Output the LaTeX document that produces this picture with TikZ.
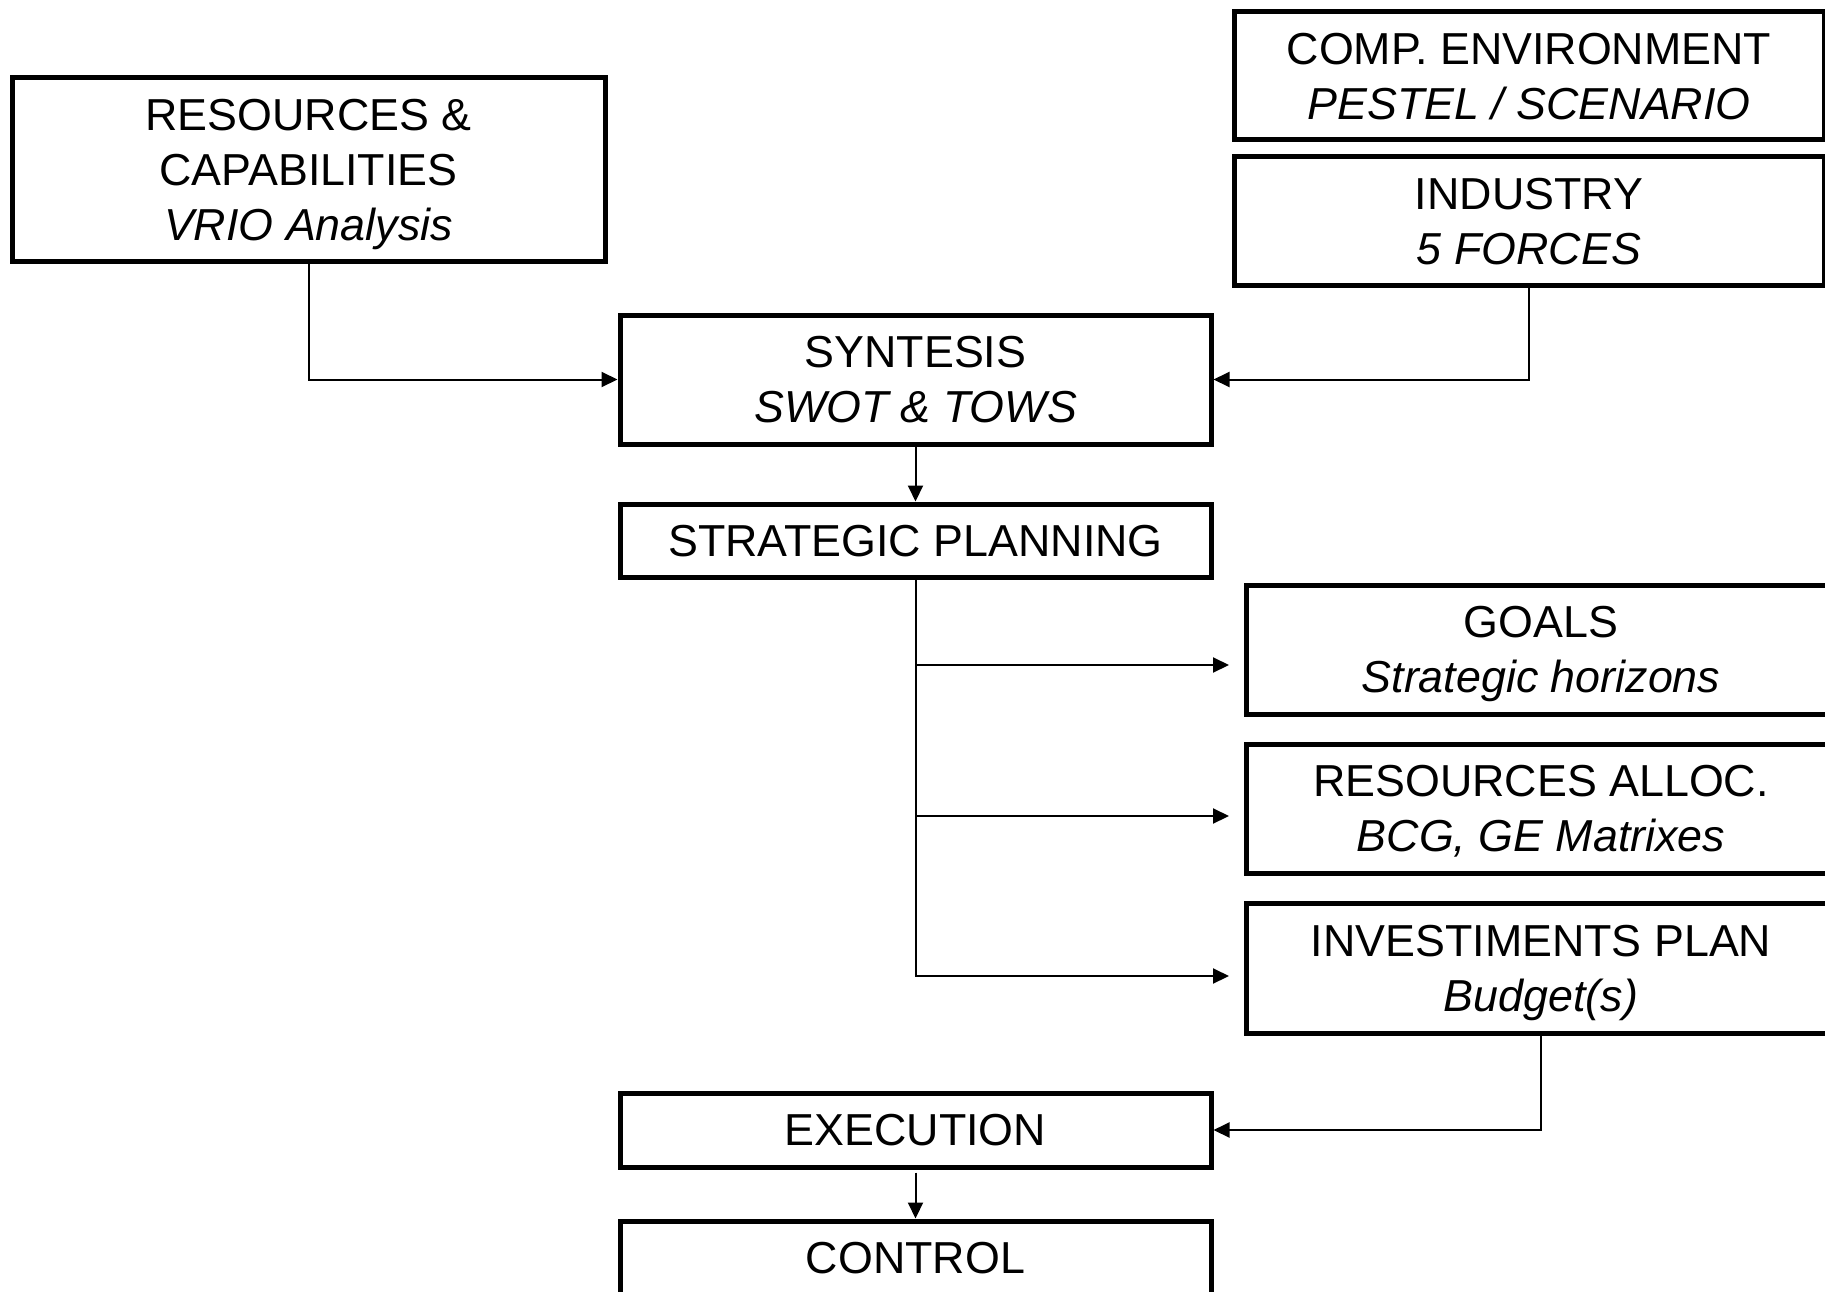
\documentclass[tikz,border=0pt]{standalone}
\usepackage{fontspec}
\setmainfont{Liberation Sans}
\usetikzlibrary{arrows.meta}
\begin{document}
\begin{tikzpicture}[x=1pt,y=-1pt,
  box/.style={draw, line width=5pt, inner sep=0pt, align=center, text depth=0pt,
    font=\fontsize{44.8}{55}\selectfont},
  conn/.style={line width=2pt},
  arr/.style={conn, -{Triangle[length=16pt,width=15pt]}}]
\clip (0,0) rectangle (1825,1292);
\fill[white] (0,0) rectangle (1825,1292);
% boxes
\node[box, minimum width=593pt, minimum height=183pt] (rc) at (308.5,169.5)
  {RESOURCES \&\\CAPABILITIES\\\textit{VRIO Analysis}};
\node[box, minimum width=590pt, minimum height=128pt] (comp) at (1529,76)
  {COMP. ENVIRONMENT\\\textit{PESTEL / SCENARIO}};
\node[box, minimum width=590pt, minimum height=128pt] (ind) at (1529,221)
  {INDUSTRY\\\textit{5 FORCES}};
\node[box, minimum width=591pt, minimum height=129pt] (syn) at (915.5,379.5)
  {SYNTESIS\\\textit{SWOT \& TOWS}};
\node[box, minimum width=591pt, minimum height=73pt] (strat) at (915.5,540.5)
  {STRATEGIC PLANNING};
\node[box, minimum width=590pt, minimum height=129pt] (goals) at (1541,649.5)
  {GOALS\\\textit{Strategic horizons}};
\node[box, minimum width=590pt, minimum height=129pt] (ra) at (1541,808.5)
  {RESOURCES ALLOC.\\\textit{BCG, GE Matrixes}};
\node[box, minimum width=590pt, minimum height=130pt] (inv) at (1541,968)
  {INVESTIMENTS PLAN\\\textit{Budget(s)}};
\node[box, minimum width=591pt, minimum height=74pt] (exec) at (915.5,1130)
  {EXECUTION};
\node[box, minimum width=591pt, minimum height=74pt] (ctrl) at (915.5,1258)
  {CONTROL};
% free ends of the branch arrows
\coordinate (gin) at (1229,665);
\coordinate (rin) at (1229,816);
\coordinate (iin) at (1229,976);
% connectors
\draw[arr] (rc.south) |- (syn.west);
\draw[arr] (ind.south) |- (syn.east);
\draw[arr] (syn.south) -- (strat.north);
\draw[arr] (strat.south) |- (gin);
\draw[arr] (strat.south) |- (rin);
\draw[arr] (strat.south) |- (iin);
\draw[arr] (inv.south) |- (exec.east);
\draw[arr, shorten <=3pt] (exec.south) -- (ctrl.north);
\end{tikzpicture}
\end{document}
